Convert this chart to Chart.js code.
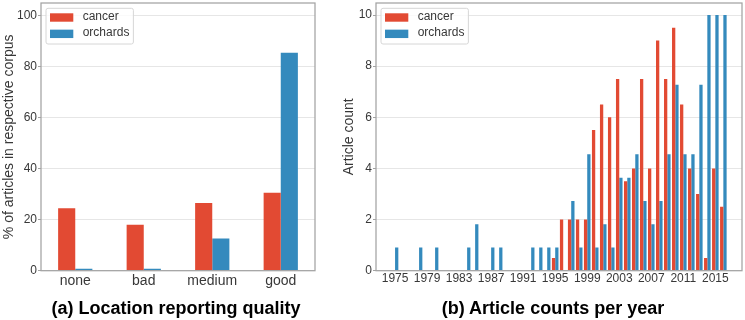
<!DOCTYPE html>
<html>
<head>
<meta charset="utf-8">
<title>Location quality and article counts</title>
<script src="https://cdn.jsdelivr.net/npm/chart.js@4.4.1/dist/chart.umd.min.js"></script>
<style>
    html, body { margin: 0; padding: 0; background: #fff; overflow: hidden; }
    #page { position: relative; width: 745px; height: 320px; }
    canvas { position: absolute; top: 0; }
    #quality-chart { left: 0; }
    #years-chart { left: 335px; }
    .caption {
        position: absolute;
        top: 297px;
        width: 300px;
        text-align: center;
        font-family: 'Liberation Sans', Arial, sans-serif;
        font-weight: bold;
        font-size: 18px;
        line-height: 22px;
        color: #000;
    }
</style>
</head>
<body>
<div id="page">
    <canvas id="quality-chart" width="335" height="320"></canvas>
    <canvas id="years-chart" width="410" height="320"></canvas>
    <div class="caption" style="left: 26px;">(a) Location reporting quality</div>
    <div class="caption" style="left: 403px;">(b) Article counts per year</div>
</div>
<script>
// (a) share of articles per location reporting quality
const qualityLabels = ['none', 'bad', 'medium', 'good'];
const qualityCancer = [24.5, 18.0, 26.6, 30.6];
const qualityOrchards = [0.8, 0.8, 12.6, 85.5];
const qualityTicks = [0, 20, 40, 60, 80, 100];

// (b) article counts per year
const years = [1975, 1976, 1977, 1978, 1979, 1980, 1981, 1982, 1983, 1984,
    1985, 1986, 1987, 1988, 1989, 1990, 1991, 1992, 1993, 1994,
    1995, 1996, 1997, 1998, 1999, 2000, 2001, 2002, 2003, 2004,
    2005, 2006, 2007, 2008, 2009, 2010, 2011, 2012, 2013, 2014,
    2015, 2016];
const yearCancer = [0, 0, 0, 0, 0, 0, 0, 0, 0, 0,
    0, 0, 0, 0, 0, 0, 0, 0, 0, 0,
    0.5, 2, 2, 2, 2, 5.5, 6.5, 6, 7.5, 3.5,
    4, 7.5, 4, 9, 7.5, 9.5, 6.5, 4, 3, 0.5,
    4, 2.5];
const yearOrchards = [0.91, 0, 0, 0.91, 0, 0.91, 0, 0, 0, 0.91,
    1.82, 0, 0.91, 0.91, 0, 0, 0, 0.91, 0.91, 0.91,
    0.91, 0, 2.73, 0.91, 4.55, 0.91, 1.82, 0.91, 3.64, 3.64,
    4.55, 2.73, 1.82, 2.73, 4.55, 7.27, 4.55, 4.55, 7.27, 10,
    10, 10];
const yearTicks = [1975, 1979, 1983, 1987, 1991, 1995, 1999, 2003, 2007, 2011, 2015];
const countTicks = [0, 2, 4, 6, 8, 10];

const RED = '#E24A33';
const BLUE = '#348ABD';
const TEXT = '#383838';
const FRAME = '#a3a3a3';
const GRID = '#e6e6e6';
const FONT = "'Liberation Sans', Arial, sans-serif";

Chart.defaults.font.family = FONT;
Chart.defaults.color = TEXT;

// plot frame on all four sides plus a boxed legend in the top left corner
const frameLegend = {
    id: 'frameLegend',
    afterDatasetsDraw(chart) {
        const { ctx, chartArea: area } = chart;
        ctx.save();
        ctx.strokeStyle = FRAME;
        ctx.lineWidth = 1.25;
        ctx.strokeRect(area.left, area.top, area.right - area.left, area.bottom - area.top);

        ctx.font = '12px ' + FONT;
        const sets = chart.data.datasets;
        const textW = Math.max(...sets.map(d => ctx.measureText(d.label).width));
        const x = area.left + 5;
        const y = area.top + 5.3;
        ctx.beginPath();
        ctx.roundRect(x, y, 36.7 + textW + 4, 35.7, 2);
        ctx.fillStyle = 'rgba(255,255,255,0.8)';
        ctx.fill();
        ctx.strokeStyle = '#d6d6d6';
        ctx.lineWidth = 1;
        ctx.stroke();

        sets.forEach((d, i) => {
            const cy = y + 9.2 + i * 16.35;
            ctx.fillStyle = d.backgroundColor;
            ctx.fillRect(x + 4, cy - 4.2, 23.3, 8.4);
            ctx.fillStyle = TEXT;
            ctx.textAlign = 'left';
            ctx.textBaseline = 'middle';
            ctx.fillText(d.label, x + 36.7, cy - 1);
        });
        ctx.restore();
    }
};

function yAxis(max, tickValues, title, titlePad) {
    return {
        min: 0,
        max: max,
        afterBuildTicks: scale => { scale.ticks = tickValues.map(v => ({ value: v })); },
        afterFit: scale => {
            scale.width = 41;
            scale.paddingTop = 0;
            scale.paddingBottom = 0;
        },
        grid: { color: GRID, lineWidth: 1, drawTicks: true, tickLength: 3, tickColor: FRAME },
        border: { display: false },
        ticks: { font: { size: 12 }, color: TEXT, padding: 1 },
        title: {
            display: true,
            text: title,
            color: TEXT,
            font: { size: 14 },
            padding: { top: titlePad, bottom: 0 }
        }
    };
}

new Chart(document.getElementById('quality-chart'), {
    type: 'bar',
    data: {
        labels: qualityLabels,
        datasets: [
            { label: 'cancer', data: qualityCancer, backgroundColor: RED },
            { label: 'orchards', data: qualityOrchards, backgroundColor: BLUE }
        ]
    },
    options: {
        responsive: false,
        animation: false,
        layout: { padding: { top: 3, right: 20, bottom: 0, left: 0 } },
        datasets: { bar: { categoryPercentage: 0.5, barPercentage: 1.0 } },
        plugins: { legend: { display: false }, tooltip: { enabled: false } },
        scales: {
            x: {
                afterFit: scale => {
                    scale.height = 49.3;
                    scale.paddingLeft = 0;
                    scale.paddingRight = 0;
                },
                grid: { display: false, drawTicks: false },
                border: { display: false },
                ticks: { font: { size: 14 }, color: TEXT, padding: 2, maxRotation: 0 }
            },
            y: yAxis(105, qualityTicks, '% of articles in respective corpus', 0.6)
        }
    },
    plugins: [frameLegend]
});

new Chart(document.getElementById('years-chart'), {
    type: 'bar',
    data: {
        datasets: [
            { label: 'cancer', data: years.map((yr, i) => ({ x: yr, y: yearCancer[i] })), backgroundColor: RED },
            { label: 'orchards', data: years.map((yr, i) => ({ x: yr, y: yearOrchards[i] })), backgroundColor: BLUE }
        ]
    },
    options: {
        responsive: false,
        animation: false,
        layout: { padding: { top: 3, right: 3, bottom: 0, left: 0 } },
        datasets: { bar: { categoryPercentage: 0.82, barPercentage: 1.0 } },
        plugins: { legend: { display: false }, tooltip: { enabled: false } },
        scales: {
            x: {
                type: 'linear',
                offset: false,
                min: 1972.62,
                max: 2018.33,
                afterBuildTicks: scale => { scale.ticks = yearTicks.map(v => ({ value: v })); },
                afterFit: scale => {
                    scale.height = 49.3;
                    scale.paddingLeft = 0;
                    scale.paddingRight = 0;
                },
                grid: { display: false, drawTicks: false },
                border: { display: false },
                ticks: {
                    font: { size: 12 },
                    color: TEXT,
                    padding: 0.6,
                    autoSkip: false,
                    maxRotation: 0,
                    callback: v => String(v)
                }
            },
            y: yAxis(10.47, countTicks, 'Article count', 5.6)
        }
    },
    plugins: [frameLegend]
});
</script>
</body>
</html>
